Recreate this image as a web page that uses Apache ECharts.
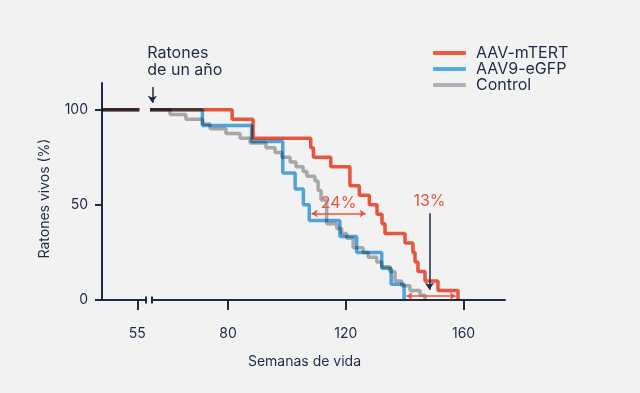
<!DOCTYPE html>
<html><head><meta charset="utf-8">
<script src="https://cdn.jsdelivr.net/npm/echarts@6/dist/echarts.min.js"></script>
<style>html,body{margin:0;padding:0;background:#f2f2f2;}#c{width:640px;height:393px;}</style>
</head><body><div id="c"></div>
<script>
// ---- data ----
const seriesNames = ['AAV-mTERT', 'AAV9-eGFP', 'Control'];
const seriesColors = ['#f5583f', '#52ace6', '#b0b0b0'];

// segment before the axis break (all groups at 100 %)
const preBreakWeeks = [43, 55.7];
const preBreakSurv = [100, 100];

// Kaplan-Meier steps after the break: week at which the value starts, survival (%)
const mtertWeeks = [53.5, 81.4, 88.5, 108.1, 109.0, 114.9, 121.4, 124.6, 128.0, 130.6, 132.3, 133.3, 140.1, 142.8, 143.5, 144.5, 146.9, 151.3, 158.1];
const mtertSurv  = [100, 95, 85, 80, 75, 70, 60, 55, 50, 45, 40, 35, 30, 25, 20, 15, 10, 5, 0];

const egfpWeeks = [53.5, 71.3, 88.0, 98.6, 102.8, 105.6, 107.6, 118.0, 123.7, 132.2, 135.4, 139.8];
const egfpSurv  = [100, 91.7, 83.3, 66.7, 58.3, 50, 41.7, 33.3, 25, 16.7, 8.3, 0];

const ctrlWeeks = [53.5, 60.3, 65.7, 71.4, 73.9, 79.3, 84.1, 87.5, 92.9, 96.0, 98.3, 101.1, 103.1, 105.5, 106.8, 109.5, 110.6, 111.6, 113.5, 116.9, 118.6, 120.3, 122.5, 125.9, 127.6, 130.5, 132.2, 135.0, 136.7, 139.0, 141.8, 145.2, 146.9];
const ctrlSurv  = [100, 97.5, 95, 92.5, 90, 87.5, 85, 82.5, 80, 77.5, 75, 72.5, 70, 67.5, 65, 62.5, 57.5, 52.5, 40, 37.5, 35, 32.5, 27.5, 25, 22.5, 20, 17.5, 15, 10, 7.5, 5, 2.5, 0];

const xTicksLeft = [55];
const xTicksRight = [80, 120, 160];
const yTicks = [0, 50, 100];

// annotations (week, %)
const diff24 = { label: '24%', from: [108.4, 45.5], to: [126.7, 45.5] };
const diff13 = { label: '13%', from: [140.6, 2.1], to: [157.3, 2.1] };
const arrow13 = { from: [148.4, 45.6], to: [148.4, 5.4] };
const arrowYear = { label: ['Ratones', 'de un año'], from: [54.3, 111.9], to: [54.3, 103.6] };

// ---- chart ----
const INK = '#1e2b45';
const FONT = 'Inter';
const zip = (a, b) => a.map((v, i) => [v, b[i]]);
const postData = [zip(mtertWeeks, mtertSurv), zip(egfpWeeks, egfpSurv), zip(ctrlWeeks, ctrlSurv)];

const chart = echarts.init(document.getElementById('c'), null, { renderer: 'canvas' });

const series = [];
// draw order: Control, eGFP, mTERT
[2, 1, 0].forEach(i => {
  const common = {
    name: seriesNames[i], type: 'line', step: 'end', showSymbol: false, symbol: 'none',
    blendMode: 'multiply', silent: true,
    lineStyle: { color: seriesColors[i], width: 3.5 },
    itemStyle: { color: seriesColors[i] }
  };
  series.push(Object.assign({}, common, { xAxisIndex: 0, yAxisIndex: 0, data: zip(preBreakWeeks, preBreakSurv) }));
  series.push(Object.assign({}, common, { xAxisIndex: 1, yAxisIndex: 1, data: postData[i] }));
});

const RED = '#e9533f';
series.push({
  name: 'annotations', type: 'line', xAxisIndex: 1, yAxisIndex: 1, data: [], silent: true,
  markLine: {
    silent: true, animation: false, precision: 3,
    data: [
      [
        { coord: arrowYear.from, symbol: 'none',
          lineStyle: { color: INK, width: 1.5, type: 'solid' },
          label: { show: true, position: 'start', distance: 8,
            formatter: '{a|' + arrowYear.label[0] + '}\n{a|' + arrowYear.label[1] + '}',
            padding: [0, 0, 0, 66],
            rich: { a: { width: 76, align: 'left', fontSize: 16, lineHeight: 17, color: INK, fontFamily: FONT } } } },
        { coord: arrowYear.to, symbol: 'arrow', symbolSize: 7 }
      ],
      [
        { coord: diff24.from, symbol: 'arrow', symbolSize: 6,
          lineStyle: { color: RED, width: 1.5, type: 'solid' },
          label: { show: true, position: 'insideMiddleTop', distance: 2, formatter: diff24.label,
            color: RED, fontSize: 16, fontFamily: FONT } },
        { coord: diff24.to, symbol: 'arrow', symbolSize: 6 }
      ],
      [
        { coord: diff13.from, symbol: 'arrow', symbolSize: 6,
          lineStyle: { color: RED, width: 1.5, type: 'solid' }, label: { show: false } },
        { coord: diff13.to, symbol: 'arrow', symbolSize: 6 }
      ],
      [
        { coord: arrow13.from, symbol: 'none',
          lineStyle: { color: INK, width: 1.5, type: 'solid' },
          label: { show: true, position: 'start', distance: 4, formatter: diff13.label,
            color: RED, fontSize: 16, fontFamily: FONT } },
        { coord: arrow13.to, symbol: 'arrow', symbolSize: 7 }
      ]
    ]
  }
});

const axisTextStyle = { color: INK, fontSize: 14, fontFamily: FONT };

chart.setOption({
  backgroundColor: '#f2f2f2',
  animation: false,
  textStyle: { fontFamily: FONT },
  legend: {
    data: seriesNames.map((n, i) => ({ name: n, itemStyle: { color: seriesColors[i] } })),
    orient: 'vertical', left: 433, top: 45, itemGap: 0, padding: 0,
    icon: 'roundRect', itemWidth: 33, itemHeight: 4,
    textStyle: { color: INK, fontSize: 16, fontFamily: FONT, lineHeight: 16, padding: [0, 0, 0, 5] },
    selectedMode: false
  },
  grid: [
    { left: 102, top: 83, width: 44, height: 217 },
    { left: 152, top: 83, width: 353, height: 217 }
  ],
  xAxis: [
    { type: 'value', gridIndex: 0, min: 43, max: 57.94, splitLine: { show: false },
      axisLine: { show: true, symbol: ['none', 'rect'], symbolSize: [7, 2], lineStyle: { color: INK, width: 2 } },
      axisTick: { show: true, customValues: xTicksLeft, length: 10, lineStyle: { color: INK, width: 2 } },
      axisLabel: Object.assign({ customValues: xTicksLeft, margin: 27 }, axisTextStyle) },
    { type: 'value', gridIndex: 1, min: 54.19, max: 174.06, splitLine: { show: false },
      axisLine: { show: true, symbol: ['rect', 'none'], symbolSize: [7, 2], lineStyle: { color: INK, width: 2 } },
      axisTick: { show: true, customValues: xTicksRight, length: 10, lineStyle: { color: INK, width: 2 } },
      axisLabel: Object.assign({ customValues: xTicksRight, margin: 27 }, axisTextStyle),
      name: 'Semanas de vida', nameLocation: 'middle', nameGap: 55,
      nameTextStyle: { color: INK, fontSize: 14, fontFamily: FONT, padding: [0, 48, 0, 0] } }
  ],
  yAxis: [
    { type: 'value', gridIndex: 0, min: 0, max: 114, splitLine: { show: false },
      axisLine: { show: true, lineStyle: { color: INK, width: 2 } },
      axisTick: { show: true, customValues: yTicks, length: 7, lineStyle: { color: INK, width: 2 } },
      axisLabel: Object.assign({ customValues: yTicks, margin: 14, padding: [0, 0, 10, 0] }, axisTextStyle),
      name: 'Ratones vivos (%)', nameLocation: 'middle', nameGap: 50,
      nameTextStyle: { color: INK, fontSize: 14, fontFamily: FONT, padding: [0, 14, 0, 0] } },
    { type: 'value', gridIndex: 1, min: 0, max: 114, show: false, splitLine: { show: false } }
  ],
  series: series
});
</script></body></html>
